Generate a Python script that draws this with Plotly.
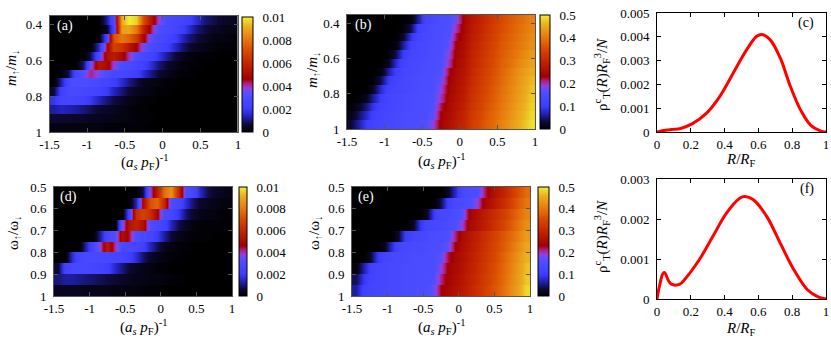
import numpy as np
import plotly.graph_objects as go

FONT = "Liberation Serif, Times New Roman, serif"
W, H = 831, 343

# ---- data ----
# heatmap columns: (a_s p_F)^-1 sample points
X_COLS = [-1.45, -1.35, -1.25, -1.15, -1.05, -0.95, -0.85, -0.75, -0.65, -0.55, -0.45, -0.35, -0.25,
          -0.15, -0.05, 0.05, 0.15, 0.25, 0.35, 0.45, 0.55, 0.65, 0.75, 0.85, 0.95]
M_ROWS = [0.375, 0.425, 0.475, 0.525, 0.575, 0.625, 0.675, 0.725, 0.775, 0.825, 0.875, 0.925, 0.975]
W_ROWS = [0.525, 0.575, 0.625, 0.675, 0.725, 0.775, 0.825, 0.875, 0.925, 0.975]
ROW_HALF = 0.0249

# (a) values in % of colour scale max (0.01)
A_PCT = [
    [0, 0, 0, 0, 0, 0, 0, 12, 28, 90, 100, 96, 70, 52, 38, 28, 27, 25, 22, 16, 10, 8, 6, 5, 4],
    [0, 0, 0, 0, 0, 0, 0, 4, 25, 88, 90, 80, 58, 42, 30, 28, 26, 22, 16, 10, 7, 5, 4, 3, 3],
    [0, 0, 0, 0, 0, 0, 0, 25, 72, 80, 76, 66, 48, 32, 28, 26, 22, 15, 10, 7, 5, 3, 2, 2, 1],
    [0, 0, 0, 0, 0, 0, 15, 45, 68, 64, 55, 46, 35, 28, 26, 22, 16, 10, 6, 4, 3, 2, 1, 1, 1],
    [0, 0, 0, 0, 0, 8, 28, 52, 56, 50, 40, 30, 27, 24, 18, 12, 7, 4, 2, 1, 1, 1, 0, 0, 0],
    [0, 0, 0, 0, 10, 35, 54, 50, 38, 30, 28, 26, 22, 16, 10, 6, 4, 2, 1, 1, 0, 0, 0, 0, 0],
    [0, 0, 8, 26, 34, 42, 36, 30, 28, 27, 25, 22, 16, 10, 6, 4, 2, 1, 1, 0, 0, 0, 0, 0, 0],
    [0, 12, 28, 30, 30, 29, 27, 25, 22, 16, 11, 7, 4, 3, 2, 1, 1, 0, 0, 0, 0, 0, 0, 0, 0],
    [6, 22, 28, 28, 27, 26, 24, 20, 14, 10, 6, 4, 3, 2, 1, 1, 0, 0, 0, 0, 0, 0, 0, 0, 0],
    [18, 25, 26, 25, 23, 19, 14, 10, 7, 5, 3, 2, 1, 1, 0, 0, 0, 0, 0, 0, 0, 0, 0, 0, 0],
    [12, 14, 13, 12, 10, 8, 6, 5, 4, 3, 2, 1, 1, 0, 0, 0, 0, 0, 0, 0, 0, 0, 0, 0, 0],
    [6, 6, 6, 5, 5, 4, 4, 3, 3, 2, 2, 1, 1, 1, 0, 0, 0, 0, 0, 0, 0, 0, 0, 0, 0],
    [2, 2, 2, 2, 2, 2, 2, 1, 1, 1, 1, 1, 1, 0, 0, 0, 0, 0, 0, 0, 0, 0, 0, 0, 0],
]
# (b) values in % of colour scale max (0.5)
B_PCT = [
    [0, 0, 0, 0, 0, 0, 0, 0, 2, 12, 25, 28, 30, 31, 36, 48, 54, 58, 62, 66, 70, 73, 76, 79, 82],
    [0, 0, 0, 0, 0, 0, 0, 1, 8, 22, 27, 29, 30, 32, 40, 49, 55, 59, 63, 67, 71, 74, 77, 80, 83],
    [0, 0, 0, 0, 0, 0, 0, 5, 18, 25, 28, 29, 30, 33, 44, 50, 56, 60, 64, 68, 72, 75, 78, 81, 84],
    [0, 0, 0, 0, 0, 0, 2, 12, 23, 27, 28, 29, 31, 35, 47, 51, 57, 61, 65, 69, 73, 76, 79, 82, 85],
    [0, 0, 0, 0, 0, 1, 8, 20, 26, 27, 28, 30, 31, 38, 48, 52, 58, 62, 66, 70, 74, 77, 80, 84, 87],
    [0, 0, 0, 0, 0, 4, 16, 24, 27, 28, 29, 30, 32, 40, 49, 53, 59, 63, 67, 71, 75, 78, 82, 86, 89],
    [0, 0, 0, 0, 2, 12, 22, 26, 27, 28, 29, 30, 33, 45, 50, 54, 60, 64, 68, 72, 76, 80, 84, 88, 91],
    [0, 0, 0, 1, 8, 19, 25, 27, 28, 29, 30, 31, 35, 47, 51, 55, 61, 65, 69, 73, 77, 81, 85, 89, 93],
    [0, 0, 0, 5, 16, 23, 26, 27, 28, 29, 30, 31, 38, 48, 52, 56, 62, 66, 70, 74, 78, 82, 86, 90, 94],
    [0, 1, 4, 12, 21, 25, 27, 28, 29, 30, 31, 32, 40, 49, 53, 57, 63, 67, 71, 75, 79, 83, 87, 91, 95],
    [1, 4, 10, 18, 24, 26, 27, 28, 29, 30, 31, 33, 44, 50, 54, 58, 64, 68, 72, 76, 80, 84, 88, 92, 96],
    [3, 8, 15, 22, 25, 27, 28, 29, 30, 30, 31, 34, 47, 51, 55, 59, 65, 69, 73, 77, 81, 85, 89, 93, 97],
    [6, 12, 20, 24, 26, 27, 28, 29, 30, 31, 32, 38, 48, 52, 56, 60, 66, 70, 74, 78, 82, 86, 90, 94, 98],
]
# (d) values in % of 0.01
D_PCT = [
    [0, 0, 0, 0, 0, 0, 0, 0, 0, 0, 0, 0, 8, 38, 56, 78, 86, 58, 30, 26, 15, 8, 5, 4, 3],
    [0, 0, 0, 0, 0, 0, 0, 0, 0, 0, 0, 14, 50, 72, 76, 60, 30, 26, 16, 9, 5, 4, 3, 2, 2],
    [0, 0, 0, 0, 0, 0, 0, 0, 0, 0, 24, 62, 68, 62, 48, 28, 26, 18, 9, 5, 3, 2, 2, 1, 1],
    [0, 0, 0, 0, 0, 0, 0, 0, 0, 35, 54, 58, 52, 30, 27, 24, 14, 7, 4, 2, 1, 1, 1, 1, 1],
    [0, 0, 0, 0, 0, 0, 12, 26, 32, 52, 44, 30, 28, 26, 20, 12, 6, 3, 2, 1, 1, 1, 0, 0, 0],
    [0, 0, 0, 0, 14, 27, 38, 55, 40, 28, 27, 26, 22, 14, 8, 4, 2, 1, 1, 0, 0, 0, 0, 0, 0],
    [0, 0, 16, 26, 28, 28, 27, 27, 26, 25, 22, 16, 9, 5, 3, 2, 1, 1, 0, 0, 0, 0, 0, 0, 0],
    [6, 24, 27, 27, 27, 26, 25, 22, 15, 10, 6, 4, 3, 2, 1, 1, 0, 0, 0, 0, 0, 0, 0, 0, 0],
    [10, 12, 12, 11, 10, 9, 8, 7, 6, 5, 4, 3, 3, 2, 2, 2, 1, 1, 0, 0, 0, 0, 0, 0, 0],
    [4, 4, 4, 4, 3, 3, 3, 3, 2, 2, 2, 2, 1, 1, 1, 0, 0, 0, 0, 0, 0, 0, 0, 0, 0],
]
# (e) values in % of 0.5
E_PCT = [
    [0, 0, 0, 0, 0, 0, 0, 0, 0, 0, 0, 0, 0, 5, 15, 27, 29, 31, 42, 50, 55, 60, 66, 72, 78],
    [0, 0, 0, 0, 0, 0, 0, 0, 0, 0, 0, 0, 8, 22, 28, 29, 30, 38, 48, 53, 58, 63, 69, 75, 80],
    [0, 0, 0, 0, 0, 0, 0, 0, 0, 0, 5, 20, 27, 28, 30, 33, 47, 52, 56, 60, 64, 68, 73, 78, 83],
    [0, 0, 0, 0, 0, 0, 0, 0, 4, 18, 26, 27, 28, 29, 31, 38, 49, 53, 57, 61, 65, 70, 75, 80, 85],
    [0, 0, 0, 0, 0, 0, 5, 20, 26, 27, 28, 29, 30, 32, 42, 50, 54, 58, 62, 66, 70, 74, 78, 83, 88],
    [0, 0, 0, 0, 3, 15, 25, 27, 28, 28, 29, 30, 31, 35, 46, 51, 55, 59, 63, 67, 71, 75, 80, 85, 90],
    [0, 0, 5, 18, 25, 27, 28, 28, 29, 29, 30, 31, 34, 44, 49, 52, 56, 60, 64, 68, 72, 77, 82, 87, 92],
    [2, 12, 22, 26, 27, 28, 28, 29, 29, 30, 30, 31, 38, 47, 50, 53, 57, 61, 65, 69, 73, 78, 83, 88, 94],
    [8, 18, 24, 26, 27, 28, 28, 29, 29, 30, 30, 32, 42, 48, 51, 54, 58, 62, 66, 70, 74, 79, 84, 89, 95],
    [12, 22, 25, 26, 27, 28, 28, 29, 29, 30, 31, 35, 46, 49, 52, 55, 59, 63, 67, 71, 75, 80, 85, 90, 97],
]

# (c) and (f) curves
C_R = [0, 0.05, 0.095, 0.135, 0.21, 0.29, 0.37, 0.45, 0.53, 0.59, 0.62, 0.67, 0.73, 0.79, 0.85, 0.91, 0.97, 1.0]
C_RHO = [0, 0.00007, 0.00011, 0.00014, 0.00035, 0.00077, 0.00148, 0.00246, 0.00345, 0.00402, 0.00410,
         0.00387, 0.0031, 0.0019, 0.00092, 0.00028, 0.00004, 0]
F_R = [0, 0.016, 0.036, 0.046, 0.065, 0.085, 0.135, 0.17, 0.25, 0.33, 0.41, 0.49, 0.52, 0.57, 0.65, 0.73,
       0.81, 0.89, 0.95, 1.0]
F_RHO = [0, 0.00035, 0.00064, 0.00066, 0.00048, 0.00037, 0.00037, 0.00052, 0.00098, 0.00156, 0.00214,
         0.00252, 0.00256, 0.00248, 0.00206, 0.00139, 0.00073, 0.00023, 0.00006, 0]

# tick labels
X_TICKS = [-1.5, -1, -0.5, 0, 0.5, 1]
X_TICK_TEXT = ["-1.5", "-1", "-0.5", "0", "0.5", "1"]
M_TICKS = [0.4, 0.6, 0.8, 1.0]
M_TICK_TEXT = ["0.4", "0.6", "0.8", "1"]
W_TICKS = [0.5, 0.6, 0.7, 0.8, 0.9, 1.0]
W_TICK_TEXT = ["0.5", "0.6", "0.7", "0.8", "0.9", "1"]
R_TICKS = [0, 0.2, 0.4, 0.6, 0.8, 1.0]
R_TICK_TEXT = ["0", "0.2", "0.4", "0.6", "0.8", "1"]
RHO_C_TICKS = [0, 0.001, 0.002, 0.003, 0.004, 0.005]
RHO_C_TEXT = ["0", "0.001", "0.002", "0.003", "0.004", "0.005"]
RHO_F_TICKS = [0, 0.001, 0.002, 0.003]
RHO_F_TEXT = ["0", "0.001", "0.002", "0.003"]
CB_SMALL = [0, 0.002, 0.004, 0.006, 0.008, 0.01]
CB_SMALL_TEXT = ["0", "0.002", "0.004", "0.006", "0.008", "0.01"]
CB_BIG = [0, 0.1, 0.2, 0.3, 0.4, 0.5]
CB_BIG_TEXT = ["0", "0.1", "0.2", "0.3", "0.4", "0.5"]

# gnuplot-like palette black-blue-purple-red-yellow
PALETTE = [
    [0.0, "#000000"], [0.06, "#0c0830"], [0.13, "#2020b0"], [0.2, "#3c3cff"], [0.33, "#5050ff"],
    [0.38, "#9040e0"], [0.42, "#b02080"], [0.46, "#a00000"], [0.58, "#c02000"], [0.7, "#d84800"],
    [0.82, "#e88010"], [0.92, "#ecb020"], [1.0, "#f0f030"],
]


def px(x):
    return x / W


def py(y):
    return 1 - y / H


def heat(pct, rows, zmax, xa, ya, cb_x, cb_top, cb_bot, cb_w, ticks, text):
    # each row is a flat band in y (pm3d-like), smooth only along x
    ys = np.repeat(rows, 2) + np.tile([-ROW_HALF, ROW_HALF], len(rows))
    zs = np.repeat(np.array(pct) / 100.0 * zmax, 2, axis=0)
    return go.Heatmap(
        x=X_COLS, y=ys, z=zs, zmin=0, zmax=zmax, zsmooth="best",
        colorscale=PALETTE, xaxis=xa, yaxis=ya,
        colorbar=dict(x=px(cb_x), xanchor="left", y=py((cb_top + cb_bot) / 2), yanchor="middle",
                      len=(cb_bot - cb_top) / H, lenmode="fraction", thickness=cb_w, thicknessmode="pixels",
                      outlinewidth=1, outlinecolor="black", xpad=0, ypad=0,
                      tickvals=ticks, ticktext=text, ticks="outside", ticklen=7,
                      tickcolor="rgba(0,0,0,0)", tickfont=dict(family=FONT, size=13, color="black")))


def axis(x0, x1, rng, tv, tt, anchor, frame="black", dom_y=False):
    d = dict(range=rng, tickvals=tv, ticktext=tt, ticks="inside", ticklen=4, tickcolor=frame,
             showline=True, linecolor=frame, linewidth=1, mirror="ticks", showgrid=False,
             zeroline=False, anchor=anchor, automargin=False,
             tickfont=dict(family=FONT, size=13, color="black"))
    if dom_y:
        d["domain"] = [py(x1), py(x0)]
    else:
        d["domain"] = [px(x0), px(x1)]
    return d


fig = go.Figure()
fig.add_trace(heat(A_PCT, M_ROWS, 0.01, "x", "y", 242, 17, 132, 11, CB_SMALL, CB_SMALL_TEXT))
fig.add_trace(heat(B_PCT, M_ROWS, 0.5, "x2", "y2", 540, 15, 129, 10, CB_BIG, CB_BIG_TEXT))
fig.add_trace(go.Scatter(x=C_R, y=C_RHO, mode="lines", xaxis="x3", yaxis="y3",
                         line=dict(color="#ff0000", width=3, shape="spline")))
fig.add_trace(heat(D_PCT, W_ROWS, 0.01, "x4", "y4", 239, 187, 296, 8, CB_SMALL, CB_SMALL_TEXT))
fig.add_trace(heat(E_PCT, W_ROWS, 0.5, "x5", "y5", 538, 187, 296, 11, CB_BIG, CB_BIG_TEXT))
fig.add_trace(go.Scatter(x=F_R, y=F_RHO, mode="lines", xaxis="x6", yaxis="y6",
                         line=dict(color="#ff0000", width=3, shape="spline")))

hm = "#555555"
fig.update_layout(
    xaxis=axis(49.5, 238, [-1.5, 1], X_TICKS, X_TICK_TEXT, "y", hm),
    yaxis=axis(16, 132, [1.0, 0.35], M_TICKS, M_TICK_TEXT, "x", hm, True),
    xaxis2=axis(347, 535, [-1.5, 1], X_TICKS, X_TICK_TEXT, "y2", hm),
    yaxis2=axis(15, 129, [1.0, 0.35], M_TICKS, M_TICK_TEXT, "x2", hm, True),
    xaxis3=axis(657, 826, [0, 1], R_TICKS, R_TICK_TEXT, "y3"),
    yaxis3=axis(13, 132, [0, 0.005], RHO_C_TICKS, RHO_C_TEXT, "x3", "black", True),
    xaxis4=axis(54, 232, [-1.5, 1], X_TICKS, X_TICK_TEXT, "y4", hm),
    yaxis4=axis(187, 296, [1.0, 0.5], W_TICKS, W_TICK_TEXT, "x4", hm, True),
    xaxis5=axis(352, 530, [-1.5, 1], X_TICKS, X_TICK_TEXT, "y5", hm),
    yaxis5=axis(187, 296, [1.0, 0.5], W_TICKS, W_TICK_TEXT, "x5", hm, True),
    xaxis6=axis(657, 826, [0, 1], R_TICKS, R_TICK_TEXT, "y6"),
    yaxis6=axis(179, 299, [0, 0.003], RHO_F_TICKS, RHO_F_TEXT, "x6", "black", True),
)
for k in ["yaxis", "yaxis2", "yaxis3", "yaxis4", "yaxis5", "yaxis6"]:
    fig.layout[k].ticklabelstandoff = 4

fig.layout.width = W
fig.layout.height = H
fig.layout.margin = dict(l=0, r=0, t=0, b=0, autoexpand=False)
fig.layout.paper_bgcolor = "white"
fig.layout.plot_bgcolor = "white"
fig.layout.showlegend = False

XT = "(<i>a<sub>s</sub> p</i><sub>F</sub>)<sup>-1</sup>"
MT = "<i>m</i><sub>↑</sub>/<i>m</i><sub>↓</sub>"
WT = "ω<sub>↑</sub>/ω<sub>↓</sub>"
RT = "<i>R</i>/<i>R</i><sub>F</sub>"
PT = "ρ<sup>c</sup><sub>T</sub>(<i>R</i>)<i>R</i><sub>F</sub><sup>3</sup>/<i>N</i>"

notes = [
    (XT, 144, 162, 0), (XT, 441, 161, 0), (RT, 741, 160, 0),
    (XT, 143, 327, 0), (XT, 441, 327, 0), (RT, 741, 329, 0),
    (MT, 12, 68, -90), (MT, 313, 70, -90), (PT, 602, 75, -90),
    (WT, 14, 233, -90), (WT, 315, 233, -90), (PT, 602, 237, -90),
]
for txt, x, y, rot in notes:
    fig.add_annotation(text=txt, x=px(x), y=py(y), xref="paper", yref="paper", showarrow=False,
                       textangle=rot, xanchor="center", yanchor="middle",
                       font=dict(family=FONT, size=15, color="black"))

labels = [("(a)", 55, 26, "white", "left"), ("(b)", 353, 25, "white", "left"),
          ("(c)", 816, 23, "black", "right"), ("(d)", 58, 197, "white", "left"),
          ("(e)", 356, 197, "white", "left"), ("(f)", 816, 189, "black", "right")]
for txt, x, y, col, anc in labels:
    fig.add_annotation(text=txt, x=px(x), y=py(y), xref="paper", yref="paper", showarrow=False,
                       xanchor=anc, yanchor="middle", font=dict(family=FONT, size=14, color=col))

# drop the browser's default 8px body margin so the figure sits at the page corner
fig.write_html("out.html", config=dict(displayModeBar=False),
               post_script="document.body.style.margin='0px';")
